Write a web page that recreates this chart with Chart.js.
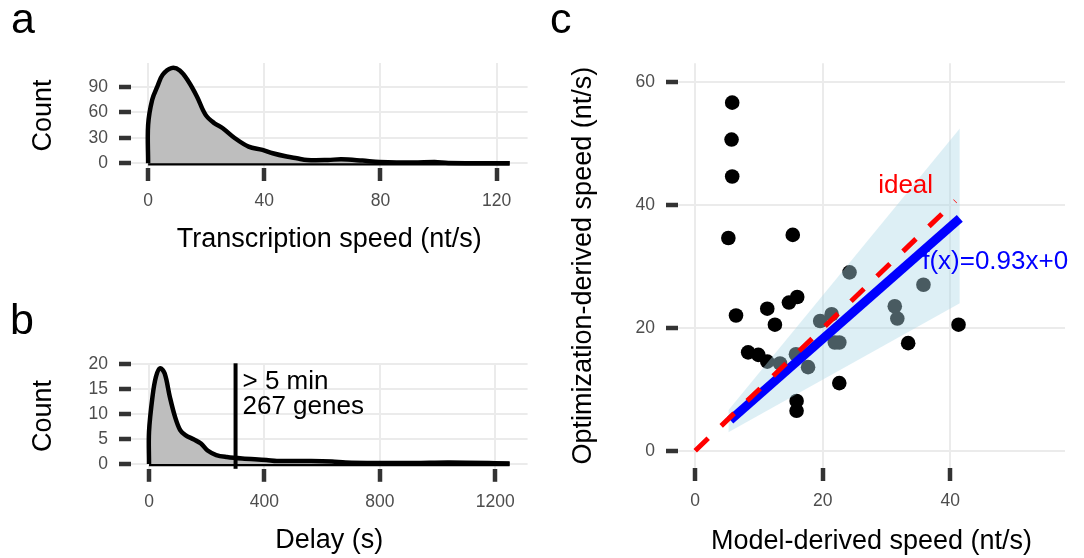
<!DOCTYPE html>
<html>
<head>
<meta charset="utf-8">
<script src="https://cdn.jsdelivr.net/npm/chart.js@4.4.0/dist/chart.umd.min.js"></script>
<style>
  body { margin: 0; background: #fff; }
  #wrap { position: relative; width: 1084px; height: 558px; overflow: hidden; font-family: 'Liberation Sans', Arial, sans-serif; }
  canvas { position: absolute; }
  .tag { position: absolute; font-size: 43px; line-height: 1; color: #000; }
</style>
</head>
<body>
<div id="wrap">
  <canvas id="chartA" width="545" height="280" style="left:0;top:0"></canvas>
  <canvas id="chartB" width="545" height="278" style="left:0;top:280px"></canvas>
  <canvas id="chartC" width="524" height="558" style="left:560px;top:0"></canvas>
  <div class="tag" style="left:11px;top:-3px">a</div>
  <div class="tag" style="left:10px;top:298px">b</div>
  <div class="tag" style="left:550px;top:-3px">c</div>
</div>
<script>
// a: transcription speed density (as counts)
const speedX = [0, 0, 1.4, 3.2, 5.0, 8.0, 10.9, 13.9, 16.8, 19.8, 22.8, 25.7, 29.9, 34.6, 39.4, 42.9, 47.7, 51.2, 54.8, 61.9, 66.6, 73.8, 79.7, 91.5, 98.7, 103.4, 124.5];
const speedCount = [0, 45.4, 75, 90.8, 104.6, 112.5, 109.7, 96.7, 79, 57.2, 47.4, 41.4, 29.6, 19.7, 15.8, 11.8, 7.9, 5.9, 3.9, 3.9, 4.7, 3.2, 1.6, 0.8, 1.6, 0.4, 0];
const speedTicksX = [0, 40, 80, 120];
const speedTicksY = [0, 30, 60, 90];

// b: delay density (as counts)
const delayX = [0, 0, 12, 24, 38, 54, 72, 90, 108, 126, 156, 180, 203, 233, 270, 323, 407, 443, 562, 634, 682, 802, 921, 1041, 1250];
const delayCount = [0, 6.5, 13.5, 17.5, 19.2, 18.2, 13.5, 9.5, 6.8, 5.8, 4.9, 4.1, 2.7, 1.8, 1.4, 1.1, 0.8, 0.6, 0.6, 0.5, 0.3, 0.2, 0.2, 0.3, 0.1];
const delayTicksX = [0, 400, 800, 1200];
const delayTicksY = [0, 5, 10, 15, 20];
const delayCut = 300;
const delayNote = ['> 5 min', '267 genes'];

// c: model vs optimization speed
const modelSpeed = [5.8, 5.7, 5.8, 5.2, 15.3, 6.4, 11.3, 12.5, 14.7, 16.0, 8.3, 9.9, 11.3, 13.3, 15.8, 17.7, 19.6, 21.4, 21.9, 22.6, 22.6, 15.9, 15.9, 24.2, 31.3, 31.7, 33.4, 35.8, 41.3];
const optSpeed = [56.6, 50.6, 44.6, 34.6, 35.1, 22.0, 23.1, 20.5, 24.1, 25.0, 16.0, 15.6, 14.5, 14.2, 15.7, 13.6, 21.1, 22.2, 17.6, 17.6, 11.0, 8.1, 6.5, 29.0, 23.5, 21.5, 17.5, 27.0, 20.5];
const idealX = [0, 40.8];
const idealY = [0, 40.6];
const fitX = [5.5, 41.5];
const fitY = [5.0, 37.8];
const bandX = [5.2, 41.5];
const bandLow = [3.0, 24.0];
const bandHigh = [6.6, 52.4];
const cTicksX = [0, 20, 40];
const cTicksY = [0, 20, 40, 60];

Chart.defaults.font.family = "'Liberation Sans', Arial, sans-serif";
Chart.defaults.color = '#4d4d4d';

const pts = (xs, ys) => xs.map((x, i) => ({ x: x, y: ys[i] }));

function axis(o) {
  const bottom = o.pos === 'bottom';
  return {
    type: 'linear',
    position: o.pos,
    bounds: 'data',
    min: o.min,
    max: o.max,
    afterBuildTicks: s => { s.ticks = o.ticks.map(v => ({ value: v })); },
    afterFit: s => { if (bottom) s.height = o.size; else s.width = o.size; },
    border: { display: false },
    grid: { color: '#ebebeb', lineWidth: 2, tickColor: '#333333', tickWidth: 4.5, tickLength: bottom ? 13 : 12 },
    ticks: { color: '#4d4d4d', font: { size: 17.5 }, padding: bottom ? 10 : 11, autoSkip: false, maxRotation: 0, callback: v => String(v) },
    title: {
      display: true, text: o.title, color: '#000',
      font: { size: 27, lineHeight: 1.2 },
      padding: bottom ? { top: 0, bottom: o.tpad } : { top: o.tpad, bottom: 0 }
    }
  };
}

// text labels placed in data units
const notes = {
  id: 'notes',
  afterDatasetsDraw(chart, args, opts) {
    const { ctx, scales } = chart;
    ctx.save();
    (opts.items || []).forEach(n => {
      ctx.font = "26px 'Liberation Sans', Arial, sans-serif";
      ctx.fillStyle = n.color;
      ctx.textAlign = n.align;
      ctx.textBaseline = 'middle';
      ctx.fillText(n.text, scales.x.getPixelForValue(n.x), scales.y.getPixelForValue(n.y));
    });
    ctx.restore();
  }
};

// vertical cut line across the whole panel
const vline = {
  id: 'vline',
  afterDatasetsDraw(chart, args, opts) {
    if (opts.at === undefined) return;
    const { ctx, chartArea, scales } = chart;
    const px = scales.x.getPixelForValue(opts.at);
    ctx.save();
    ctx.strokeStyle = '#000';
    ctx.lineWidth = 4;
    ctx.beginPath();
    ctx.moveTo(px, chartArea.top);
    ctx.lineTo(px, chartArea.bottom);
    ctx.stroke();
    ctx.restore();
  }
};

function densityChart(id, xs, ys, xr, yr, xTicks, yTicks, xTitle, top, right, xh, tpad, extra) {
  return new Chart(document.getElementById(id), {
    type: 'scatter',
    data: {
      datasets: [
        {
          data: pts(xs, ys), showLine: true, borderColor: '#000', borderWidth: 4.5,
          backgroundColor: '#bebebe', fill: 'origin', pointRadius: 0, tension: 0.35,
          borderJoinStyle: 'round'
        },
        {
          data: pts([xs[0], xs[xs.length - 1]], [0, 0]), showLine: true,
          borderColor: '#000', borderWidth: 4.5, pointRadius: 0, fill: false
        }
      ]
    },
    options: {
      responsive: false, animation: false, devicePixelRatio: 1,
      layout: { padding: { top: top, right: right, left: 0, bottom: 0 } },
      plugins: Object.assign({ legend: { display: false }, tooltip: { enabled: false } }, extra),
      scales: {
        x: axis({ pos: 'bottom', min: xr[0], max: xr[1], ticks: xTicks, size: xh, title: xTitle, tpad: tpad }),
        y: axis({ pos: 'left', min: yr[0], max: yr[1], ticks: yTicks, size: 131, title: 'Count', tpad: 27.8 })
      }
    },
    plugins: [notes, vline]
  });
}

densityChart('chartA', speedX, speedCount, [-5.9, 130.7], [-5.6, 118.5], speedTicksX, speedTicksY,
  'Transcription speed (nt/s)', 63, 17.4, 112, 23.8, {});

densityChart('chartB', delayX, delayCount, [-62.5, 1312.5], [-0.96, 20.2], delayTicksX, delayTicksY,
  'Delay (s)', 83.3, 17.4, 89.2, 0.8, {
    vline: { at: delayCut },
    notes: { items: [
      { text: delayNote[0], x: 324, y: 16.5, color: '#000', align: 'left' },
      { text: delayNote[1], x: 324, y: 11.5, color: '#000', align: 'left' }
    ] }
  });

new Chart(document.getElementById('chartC'), {
  type: 'scatter',
  data: {
    datasets: [
      { data: pts(idealX, idealY), showLine: true, borderColor: '#ff0000', borderWidth: 5, borderDash: [18, 18], pointRadius: 0, fill: false },
      { data: pts(fitX, fitY), showLine: true, borderColor: '#0000ff', borderWidth: 9, pointRadius: 0, fill: false },
      { data: pts(bandX, bandHigh), showLine: true, borderWidth: 0, pointRadius: 0, fill: '+1', backgroundColor: 'rgba(173,216,230,0.42)' },
      { data: pts(bandX, bandLow), showLine: true, borderWidth: 0, pointRadius: 0, fill: false },
      { data: pts(modelSpeed, optSpeed), pointRadius: 7.3, pointBackgroundColor: '#000', pointBorderWidth: 0 }
    ]
  },
  options: {
    responsive: false, animation: false, devicePixelRatio: 1,
    layout: { padding: { top: 63.3, right: 19, left: 0, bottom: 0 } },
    plugins: {
      legend: { display: false }, tooltip: { enabled: false },
      notes: { items: [
        { text: 'ideal', x: 33.0, y: 43.0, color: '#ff0000', align: 'center' },
        { text: 'f(x)=0.93x+0', x: 35.6, y: 30.8, color: '#0000ff', align: 'left' }
      ] }
    },
    scales: {
      x: axis({ pos: 'bottom', min: -2.7, max: 58.0, ticks: cTicksX, size: 90, title: 'Model-derived speed (nt/s)', tpad: 0.1 }),
      y: axis({ pos: 'left', min: -2.8, max: 63.0, ticks: cTicksY, size: 118, title: 'Optimization-derived speed (nt/s)', tpad: 7.1 })
    }
  },
  plugins: [notes]
});
</script>
</body>
</html>
